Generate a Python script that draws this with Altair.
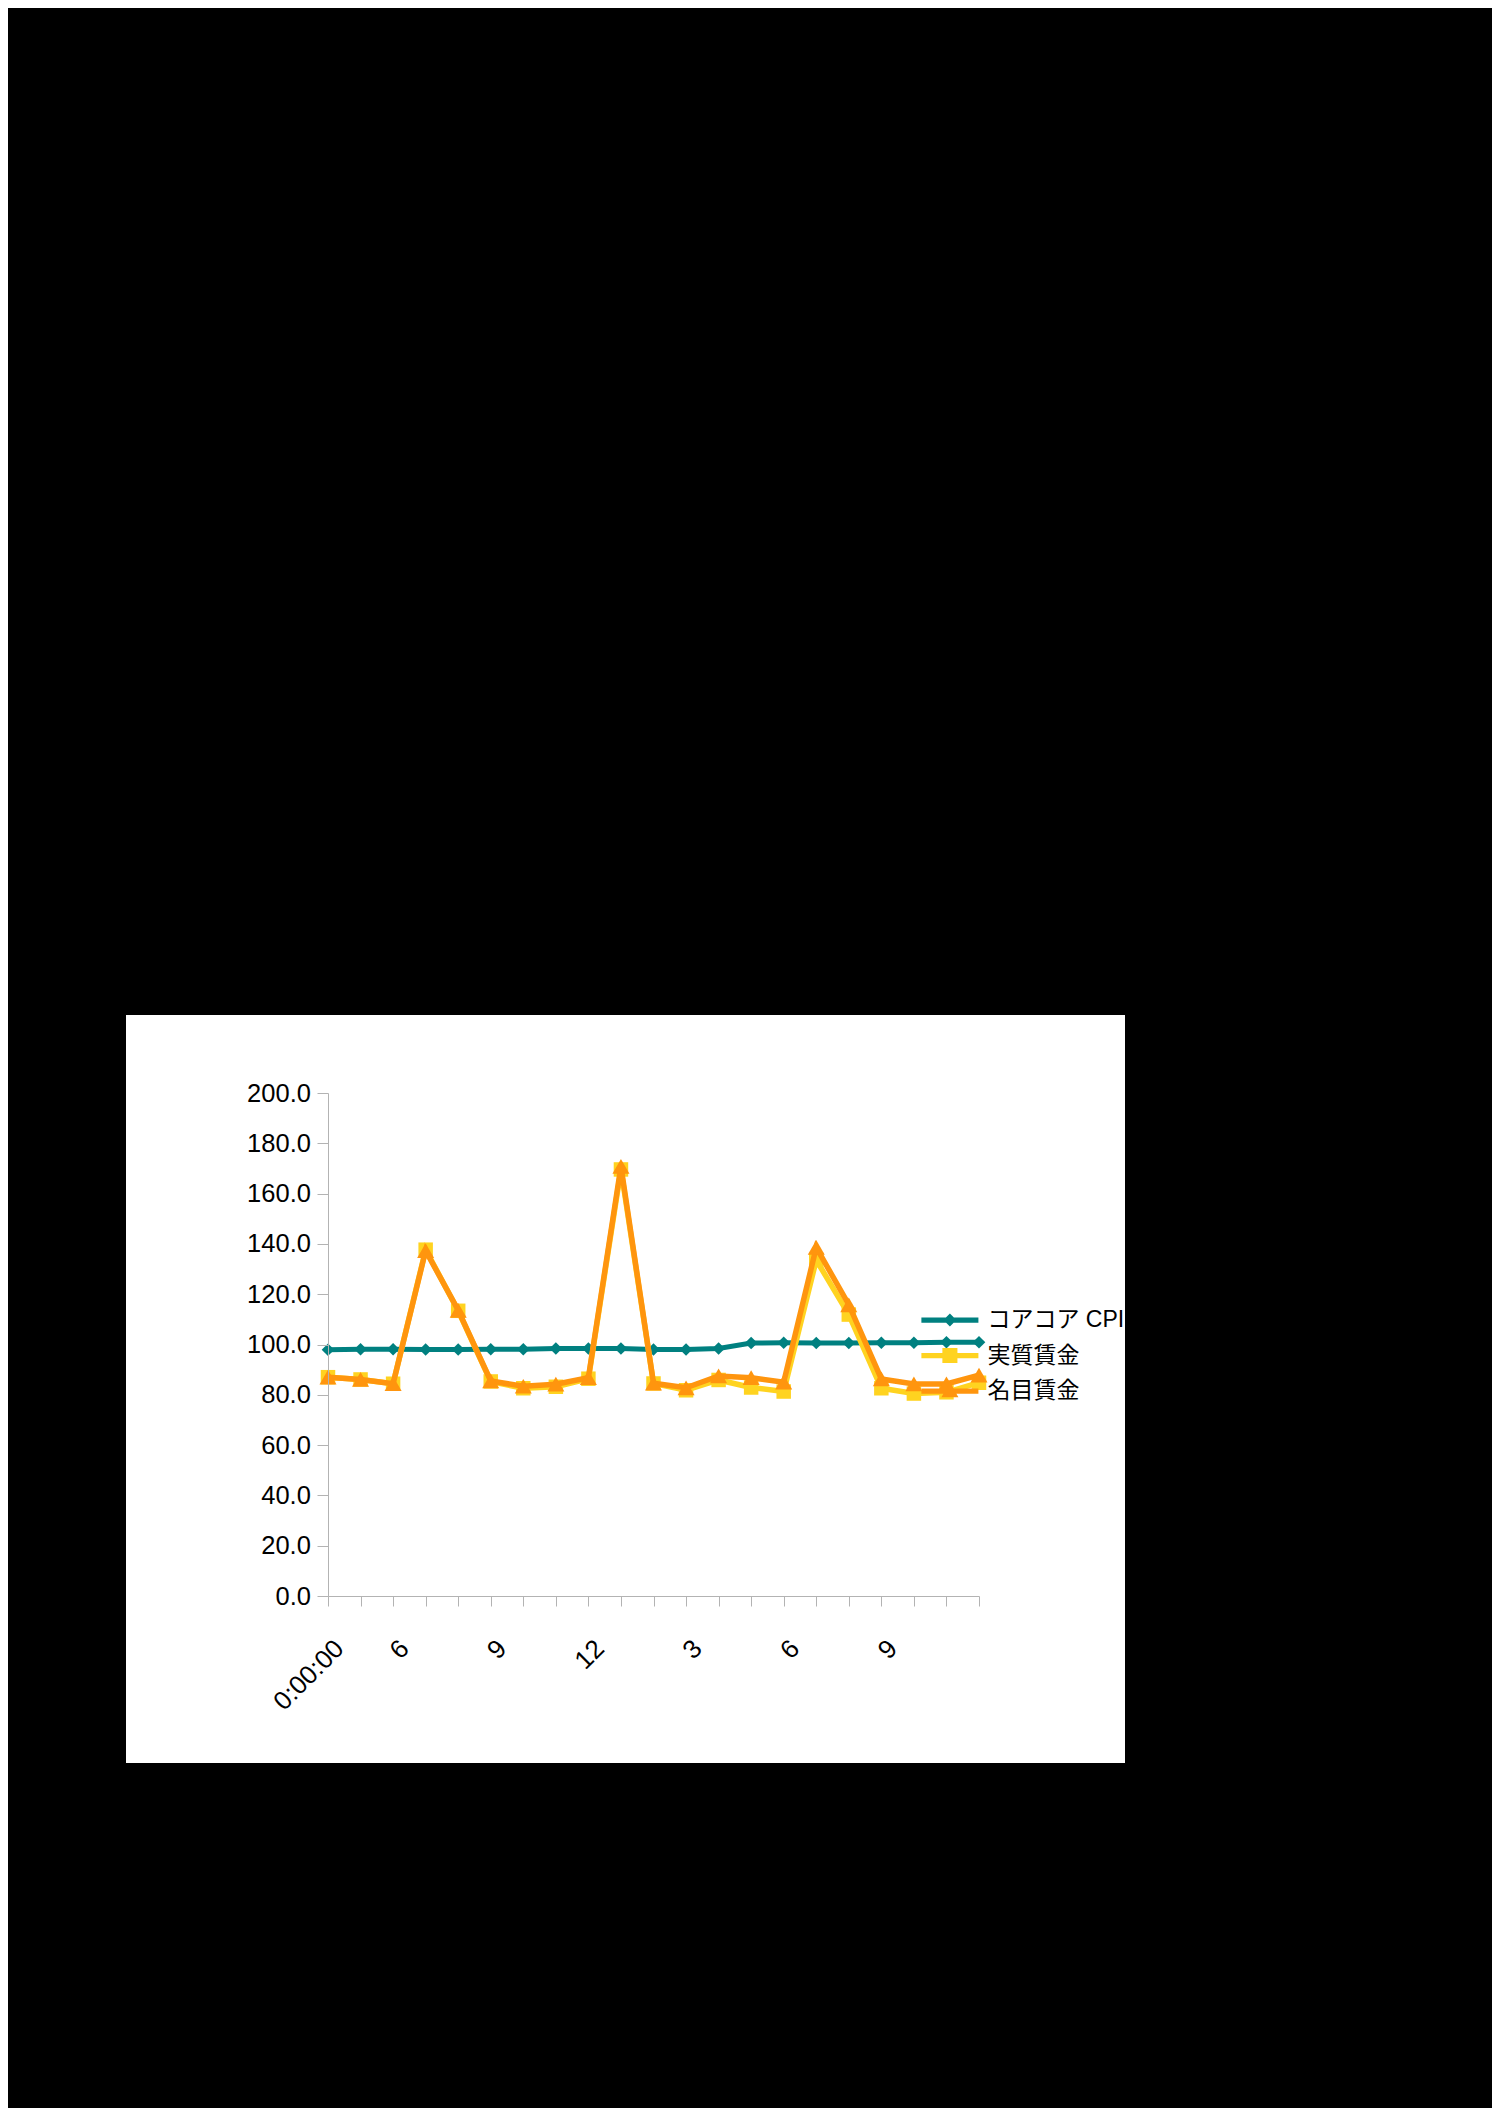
import json
import pandas as pd
import altair as alt

# ---- data ----
x_labels = ["0:00:00", "", "6", "", "", "9", "", "", "12", "", "", "3", "", "",
            "6", "", "", "9", "", "", ""]
cpi = [97.9, 98.1, 98.1, 98.0, 98.0, 98.1, 98.1, 98.4, 98.4, 98.4, 98.0,
       98.0, 98.4, 100.6, 100.7, 100.6, 100.6, 100.7, 100.7, 100.9, 100.9]
real_wage = [87.0, 86.1, 84.4, 137.7, 113.4, 85.3, 82.6, 83.2, 86.4, 169.6, 84.5,
             81.8, 85.9, 82.9, 81.3, 133.6, 111.9, 82.6, 80.5, 81.0, 84.8]
nominal_wage = [87.0, 86.1, 84.4, 137.3, 113.6, 85.5, 83.4, 84.2, 86.8, 170.8, 84.6,
                82.8, 87.5, 86.8, 85.0, 138.6, 115.8, 86.3, 84.3, 84.3, 87.8]
series_names = ["コアコア CPI", "実質賃金", "名目賃金"]
series_values = [cpi, real_wage, nominal_wage]

# ---- styles ----
colors = ["#008080", "#FFD320", "#FF950E"]
shapes = ["diamond", "square", "triangle-up"]
sizes = [160, 210, 290]
line_widths = [5, 5.5, 5.5]
legend_paths = [
    "M-1.629,-0.15L1.629,-0.15L1.629,0.15L-1.629,0.15Z"
    "M0,-0.371L0.371,0L0,0.371L-0.371,0Z",
    "M-1.629,-0.15L1.629,-0.15L1.629,0.15L-1.629,0.15Z"
    "M-0.43,-0.43L0.43,-0.43L0.43,0.43L-0.43,0.43Z",
    "M-1.629,-0.15L1.629,-0.15L1.629,0.15L-1.629,0.15Z"
    "M0,-0.514L0.486,0.343L-0.486,0.343Z",
]

rows = []
for name, vals in zip(series_names, series_values):
    for i, v in enumerate(vals):
        rows.append({"series": name, "idx": i, "value": v})
df = pd.DataFrame(rows)

FONT = "Liberation Sans, Arial, Noto Sans CJK JP"

x_enc = alt.X(
    "idx:Q",
    scale=alt.Scale(domain=[0, len(x_labels) - 1], nice=False, zero=False),
    axis=alt.Axis(
        values=list(range(len(x_labels))),
        labelExpr=json.dumps(x_labels, ensure_ascii=False) + "[datum.value]",
        labelAngle=315, labelAlign="right", labelBaseline="top",
        labelPadding=29, labelOffset=2, labelOverlap=False, labelFlush=False,
        labelFontSize=26, labelFont=FONT, labelColor="black",
        tickSize=10, tickColor="#b3b3b3", domainColor="#b3b3b3",
        grid=False, title=None, zindex=1,
    ),
)
y_enc = alt.Y(
    "value:Q",
    scale=alt.Scale(domain=[0, 200], nice=False),
    axis=alt.Axis(
        values=list(range(0, 201, 20)), format=".1f",
        labelFontSize=25.5, labelFont=FONT, labelColor="black", labelPadding=6.6,
        tickSize=11, tickColor="#b3b3b3", domainColor="#b3b3b3",
        grid=False, title=None, zindex=1,
    ),
)

panel = alt.Chart(alt.Data(values=[{}])).mark_rect(color="white").encode(
    x=alt.value(-202), x2=alt.value(797), y=alt.value(-78), y2=alt.value(670)
)

layers = [panel]
base = alt.Chart(df)
for name, col, shp, sz, lw in zip(series_names, colors, shapes, sizes, line_widths):
    sub = base.transform_filter(alt.datum.series == name)
    layers.append(sub.mark_line(color=col, strokeWidth=lw).encode(x=x_enc, y=y_enc))
    layers.append(sub.mark_point(color=col, shape=shp, size=sz, filled=True, opacity=1)
                  .encode(x=x_enc, y=y_enc))

leg = alt.Legend(
    orient="none", legendX=604.4, legendY=209.5, title=None,
    labelFontSize=23, labelFont=FONT, labelColor="black", labelLimit=400,
    labelOffset=20, symbolSize=1225, symbolOpacity=1, symbolStrokeWidth=0,
    padding=0, rowPadding=5.6, zindex=2,
)
legend_layer = base.mark_point(filled=True, opacity=0, size=1225).encode(
    x=x_enc, y=y_enc,
    color=alt.Color("series:N", scale=alt.Scale(domain=series_names, range=colors), legend=leg),
    shape=alt.Shape("series:N", scale=alt.Scale(domain=series_names, range=legend_paths), legend=leg),
)
layers.append(legend_layer)

chart = alt.layer(*layers).properties(
    width=651, height=503,
    padding={"left": 320, "top": 1085, "right": 513, "bottom": 512},
    autosize=alt.AutoSizeParams(type="none"),
    background="black",
).configure_view(stroke=None)

chart.save("out.html", embed_options={"renderer": "svg", "actions": False})
